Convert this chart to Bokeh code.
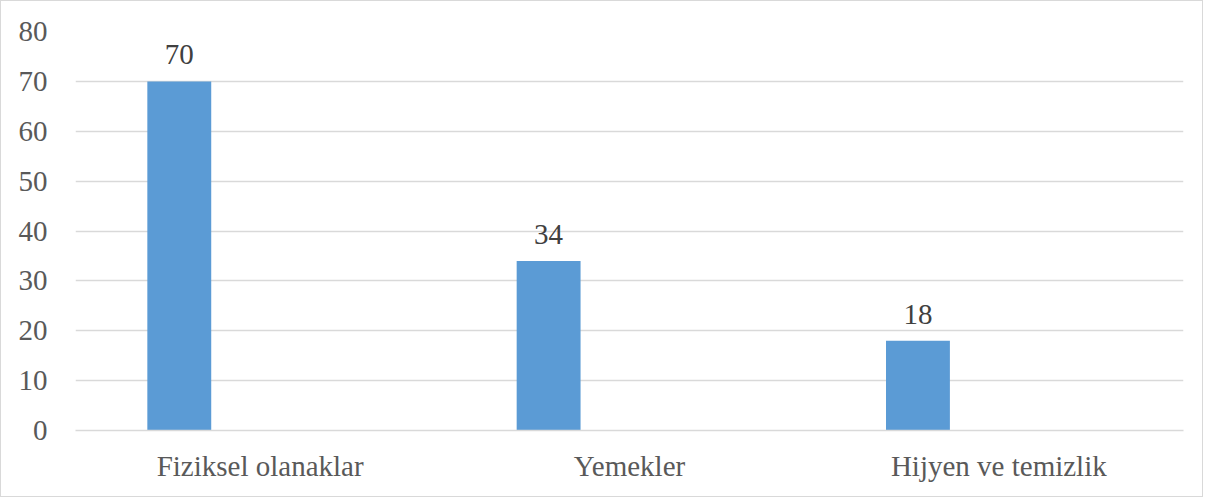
from bokeh.plotting import figure
from bokeh.models import ColumnDataSource, FixedTicker, LabelSet
from bokeh.transform import dodge
from bokeh.embed import file_html
from bokeh.resources import INLINE

categories = ["Fiziksel olanaklar", "Yemekler", "Hijyen ve temizlik"]
values = [70, 34, 18]
labels = [str(v) for v in values]
y_ticks = [0, 10, 20, 30, 40, 50, 60, 70, 80]

src = ColumnDataSource(dict(cat=categories, val=values, lab=labels))

FONT = "Liberation Serif"
GRAY = "#595959"
FS = "29px"

p = figure(x_range=categories, y_range=(0, 80), width=1203, height=497,
           output_backend="svg", toolbar_location=None,
           min_border_left=74, min_border_right=21, min_border_top=30, min_border_bottom=68)
p.styles = {"border": "1px solid #d9d9d9", "box-sizing": "border-box"}

p.vbar(x=dodge("cat", -0.219, range=p.x_range), top="val", width=0.173,
       source=src, color="#5b9bd5", line_color=None)

lbl = LabelSet(x=dodge("cat", -0.219, range=p.x_range), y="val", text="lab",
               source=src, text_align="center", text_baseline="alphabetic",
               y_offset=17, text_font=FONT, text_font_size=FS, text_color="#404040")
p.add_layout(lbl)

p.outline_line_color = None
p.xgrid.grid_line_color = None
p.ygrid.grid_line_color = "#d9d9d9"
p.ygrid.grid_line_width = 1.5
p.yaxis.ticker = FixedTicker(ticks=y_ticks)

p.yaxis.axis_line_color = None
p.yaxis.major_tick_line_color = None
p.yaxis.minor_tick_line_color = None
p.yaxis.major_label_standoff = 22
p.yaxis.major_label_text_font = FONT
p.yaxis.major_label_text_font_size = FS
p.yaxis.major_label_text_color = GRAY

p.xaxis.axis_line_color = "#d9d9d9"
p.xaxis.axis_line_width = 1.5
p.xaxis.major_tick_line_color = None
p.xaxis.minor_tick_line_color = None
p.xaxis.major_label_standoff = 13
p.xaxis.major_label_text_font = FONT
p.xaxis.major_label_text_font_size = FS
p.xaxis.major_label_text_color = GRAY

p.x_range.range_padding = 0

open("out.html", "w").write(file_html(p, INLINE))
